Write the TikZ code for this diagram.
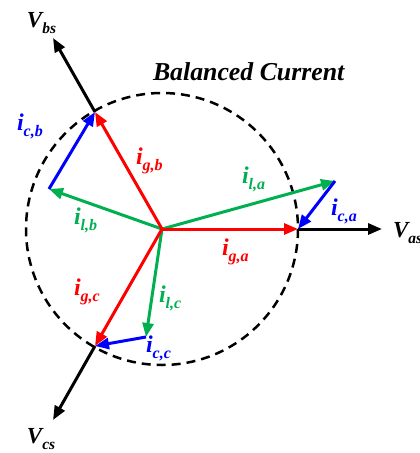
\documentclass[tikz,border=0pt]{standalone}
\usepackage{fontspec}
\setmainfont{Liberation Serif}
\usetikzlibrary{arrows.meta}
\definecolor{cred}{RGB}{255,0,0}
\definecolor{cgreen}{RGB}{0,176,80}
\definecolor{cblue}{RGB}{0,0,255}
\newcommand{\vlab}[2]{{\fontsize{23}{23}\selectfont\bfseries\itshape #1\raisebox{-0.28em}{\fontsize{15.5}{15.5}\selectfont #2}}}
\newcommand{\ilab}[2]{{\fontsize{24}{24}\selectfont\bfseries\itshape #1\raisebox{-0.28em}{\fontsize{16}{16}\selectfont #2}}}
\begin{document}
\begin{tikzpicture}[x=1pt,y=-1pt,
  vec/.style={line width=3pt,-{Triangle[length=14pt,width=11pt]}},
  lbl/.style={anchor=base west,inner sep=0pt,outer sep=0pt}]
\useasboundingbox (0,0) rectangle (420,453);
\clip (0,0) rectangle (420,453);
% coordinates
\coordinate (O) at (162,229);
\coordinate (A) at (298,229);
\coordinate (B) at (95,112);
\coordinate (C) at (95,346);
\coordinate (VA) at (382,229);
\coordinate (VB) at (53,38);
\coordinate (VC) at (53,420);
\coordinate (LA) at (335,181);
\coordinate (LB) at (49,189);
\coordinate (LC) at (146,337);
% circle
\draw[line width=2.5pt,dash pattern=on 9pt off 6pt] (O) circle[radius=136];
% voltage vectors
\draw[vec,black] (A) -- (VA);
\draw[vec,black] (B) -- (VB);
\draw[vec,black] (C) -- (VC);
% load currents
\draw[vec,cgreen] (O) -- (LA);
\draw[vec,cgreen] (O) -- (LB);
\draw[vec,cgreen] (O) -- (LC);
% compensating currents
\draw[vec,cblue] (LA) -- (A);
\draw[vec,cblue] (LB) -- (B);
\draw[vec,cblue] (LC) -- (C);
% grid currents
\draw[vec,cred] (O) -- (A);
\draw[vec,cred] (O) -- (B);
\draw[vec,cred] (O) -- (C);
% labels
\node[lbl] (title) at (153,80) {\fontsize{25.8}{25.8}\selectfont\bfseries\itshape Balanced Current};
\node[lbl] (tvbs) at (27,27) {\vlab{V}{bs}};
\node[lbl] (tvcs) at (27,443) {\vlab{V}{cs}};
\node[lbl] (tvas) at (393,237) {\vlab{V}{as}};
\node[lbl,text=cblue] (tcb) at (17,130) {\ilab{i}{c,b}};
\node[lbl,text=cred] (tgb) at (136,164) {\ilab{i}{g,b}};
\node[lbl,text=cgreen] (tlb) at (74,224) {\ilab{i}{l,b}};
\node[lbl,text=cgreen] (tla) at (242,183) {\ilab{i}{l,a}};
\node[lbl,text=cblue] (tca) at (331,215) {\ilab{i}{c,a}};
\node[lbl,text=cred] (tga) at (222,255) {\ilab{i}{g,a}};
\node[lbl,text=cred] (tgc) at (74,295) {\ilab{i}{g,c}};
\node[lbl,text=cgreen] (tlc) at (159,302) {\ilab{i}{l,c}};
\node[lbl,text=cblue] (tcc) at (146,352) {\ilab{i}{c,c}};
\end{tikzpicture}
\end{document}
